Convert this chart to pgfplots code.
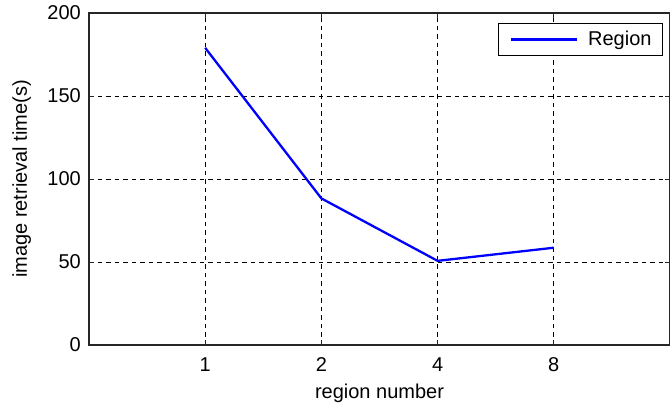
\documentclass[border=0pt]{standalone}
\usepackage{pgfplots}
\pgfplotsset{compat=1.18}
\usepackage{fontspec}
\setmainfont{Liberation Sans}
\begin{document}
\begin{tikzpicture}
\begin{axis}[
  scale only axis, width=581pt, height=332pt,
  xmin=0, xmax=5, ymin=0, ymax=200,
  xtick={1,2,3,4}, xticklabels={1,2,4,8},
  ytick={0,50,100,150,200},
  /pgf/number format/assume math mode=true,
  font=\fontsize{20}{24}\selectfont,
  grid=major,
  grid style={black, line width=0.8pt, dash pattern=on 4.5pt off 4pt},
  axis line style={black!85, line width=1.2pt},
  tick align=inside, major tick length=5pt,
  tick style={black!85, line width=1pt},
  xticklabel style={anchor=base, inner sep=0pt, yshift=-26pt},
  yticklabel style={anchor=east, inner sep=0pt, xshift=-8pt},
  xlabel={region number},
  ylabel={image retrieval time(s)},
  xlabel style={at={(axis description cs:0.5,0)}, anchor=base, inner sep=0pt, yshift=-53pt},
  ylabel style={at={(axis description cs:0,0.5)}, anchor=base, inner sep=0pt, yshift=62pt},
  legend style={at={(rel axis cs:0.988,0.970)}, anchor=north east, draw=black, line width=1pt,
    inner xsep=11pt, inner ysep=8pt, column sep=10pt, nodes={inner sep=0pt, font=\fontsize{20}{24}\selectfont}},
  legend image code/.code={\draw[#1] (0pt,0pt) -- (66pt,0pt);},
]
\addplot[blue, line width=2.3pt] coordinates {(1,179) (2,88.3) (3,50.7) (4,58.6)};
\addlegendentry{Region}
\coordinate (ll) at (rel axis cs:0,0);
\coordinate (ur) at (rel axis cs:1,1);
\end{axis}
\pgfresetboundingbox
\useasboundingbox ([shift={(-89pt,-57pt)}]ll) rectangle ([shift={(0pt,13pt)}]ur);
\end{tikzpicture}
\end{document}
